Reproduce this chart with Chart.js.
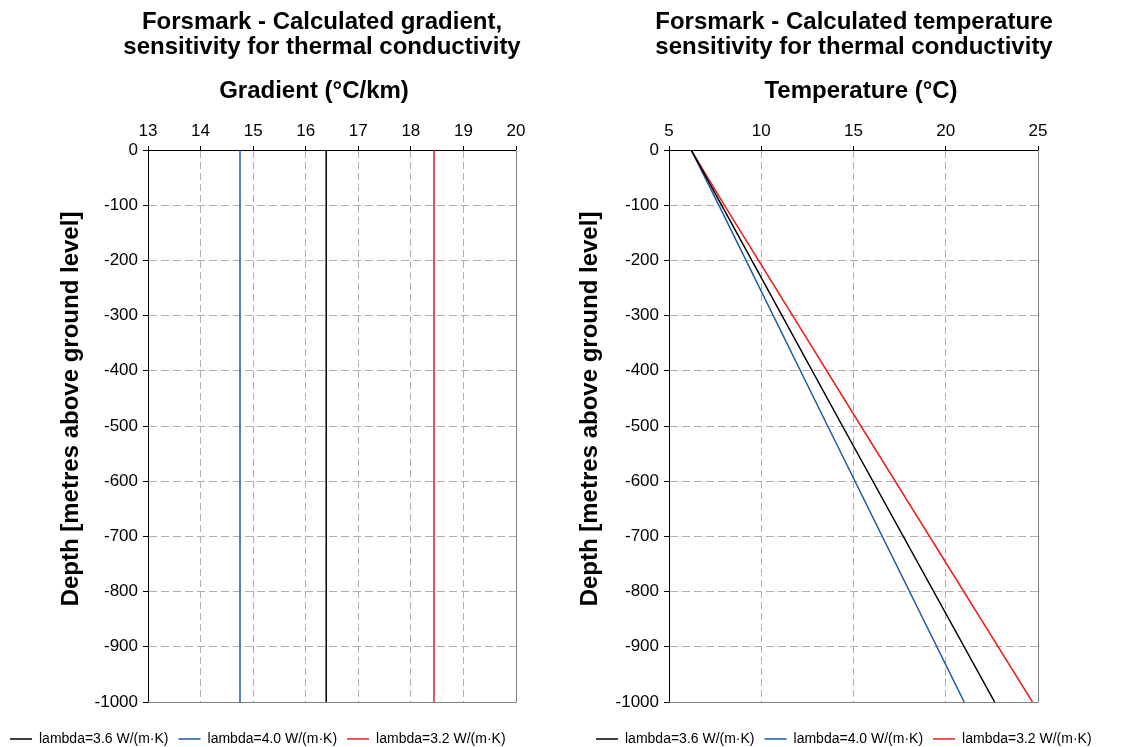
<!DOCTYPE html>
<html>
<head>
<meta charset="utf-8">
<title>Forsmark - thermal conductivity sensitivity</title>
<script src="https://cdn.jsdelivr.net/npm/chart.js@4/dist/chart.umd.min.js"></script>
<style>
  html, body { margin: 0; padding: 0; background: #fff; width: 1137px; height: 747px; overflow: hidden; }
  .panel { position: absolute; top: 0; }
  #gradPanel { left: 0; }
  #tempPanel { left: 570px; }
</style>
</head>
<body>
<div class="panel" id="gradPanel"><canvas id="gradChart" width="570" height="756"></canvas></div>
<div class="panel" id="tempPanel"><canvas id="tempChart" width="567" height="756"></canvas></div>
<script>
// ---- data ----------------------------------------------------------------
const seriesLabels = ['lambda=3.6 W/(m\u00b7K)', 'lambda=4.0 W/(m\u00b7K)', 'lambda=3.2 W/(m\u00b7K)'];
const seriesColors = ['#000000', '#1a5aa8', '#ee1c1c'];

// calculated gradient (°C/km) versus depth (m)
const gradientDepths = [0, -1000];
const gradient36 = [16.39, 16.39];
const gradient40 = [14.75, 14.75];
const gradient32 = [18.44, 18.44];

// calculated temperature (°C) versus depth (m)
const temperatureDepths = [0, -100, -500, -1000];
const temperature36 = [6.2, 7.85, 14.4, 22.65];
const temperature40 = [6.2, 7.7, 13.6, 21.0];
const temperature32 = [6.2, 8.0, 15.4, 24.7];

// tick labels
const gradientTicks = [13, 14, 15, 16, 17, 18, 19, 20];
const temperatureTicks = [5, 10, 15, 20, 25];
const depthTicks = [0, -100, -200, -300, -400, -500, -600, -700, -800, -900, -1000];

// ---- drawing ---------------------------------------------------------------
const FONT = "'Liberation Sans', Arial, Helvetica, sans-serif";
Chart.defaults.font.family = FONT;
Chart.defaults.color = '#000';

// titles and axis captions
const captionPlugin = {
  id: 'captions',
  afterDraw(chart, args, o) {
    const ctx = chart.ctx;
    ctx.save();
    ctx.fillStyle = '#000';
    ctx.font = 'bold ' + o.size + 'px ' + FONT;
    ctx.textAlign = 'center';
    ctx.textBaseline = 'middle';
    o.title.forEach((line, i) => ctx.fillText(line, o.titleX, o.titleY + i * o.lineGap));
    ctx.fillText(o.xCaption, o.xCaptionX, o.xCaptionY);
    ctx.translate(o.yCaptionX, o.yCaptionY);
    ctx.rotate(-Math.PI / 2);
    ctx.fillText(o.yCaption, 0, 0);
    ctx.restore();
  }
};

// grey right and bottom edges of the plot frame
const framePlugin = {
  id: 'frame',
  beforeDatasetsDraw(chart) {
    const { ctx, chartArea: a } = chart;
    ctx.save();
    ctx.strokeStyle = '#808080';
    ctx.lineWidth = 1;
    ctx.beginPath();
    ctx.moveTo(Math.round(a.right) + 0.5, a.top);
    ctx.lineTo(Math.round(a.right) + 0.5, Math.round(a.bottom) + 0.5);
    ctx.lineTo(a.left, Math.round(a.bottom) + 0.5);
    ctx.stroke();
    ctx.restore();
  }
};

// one profile: values along x, depths along y
function series(values, depths, i) {
  return {
    label: seriesLabels[i],
    data: depths.map((d, k) => ({ x: values[k], y: d })),
    borderColor: seriesColors[i],
    backgroundColor: seriesColors[i],
    borderWidth: 1.5,
    showLine: true,
    pointRadius: 0,
    pointHoverRadius: 0,
    fill: false,
    tension: 0
  };
}

function buildOptions(cfg) {
  const tickFont = { size: 17, family: FONT };
  return {
    responsive: false,
    animation: false,
    devicePixelRatio: 1,
    layout: { padding: { left: cfg.padLeft, right: 0, top: 120, bottom: 0 } },
    scales: {
      x: {
        type: 'linear',
        position: 'top',
        min: cfg.xTicks[0],
        max: cfg.xTicks[cfg.xTicks.length - 1],
        afterBuildTicks: s => { s.ticks = cfg.xTicks.map(v => ({ value: v })); },
        afterFit: s => { s.height = 30; },
        ticks: { font: tickFont, color: '#000', padding: 4, maxRotation: 0, callback: v => String(v) },
        grid: { color: '#b0b0b0', tickColor: '#000', tickLength: 4 },
        border: { color: '#000', width: 1, dash: [7, 4] }
      },
      y: {
        type: 'linear',
        position: 'left',
        min: depthTicks[depthTicks.length - 1],
        max: depthTicks[0],
        afterBuildTicks: s => { s.ticks = depthTicks.map(v => ({ value: v })); },
        afterFit: s => { s.width = cfg.yWidth; },
        ticks: { font: tickFont, color: '#000', padding: 5, callback: v => String(v) },
        grid: { color: '#b0b0b0', tickColor: '#000', tickLength: 5 },
        border: { color: '#000', width: 1, dash: [8, 4] }
      },
      spacer: {
        type: 'linear',
        position: 'right',
        min: 0,
        max: 1,
        grid: { display: false },
        ticks: { display: false },
        border: { display: false },
        afterFit: s => { s.width = cfg.rightSpace; }
      }
    },
    plugins: {
      tooltip: { enabled: false },
      title: { display: false },
      legend: {
        position: 'bottom',
        align: 'start',
        title: { display: true, text: ' ', padding: 0, font: { size: 20, lineHeight: 1 } },
        labels: {
          usePointStyle: true,
          pointStyle: 'line',
          pointStyleWidth: 22,
          padding: 10,
          color: '#000',
          font: { size: 14, family: FONT }
        }
      },
      captions: cfg.captions
    }
  };
}

new Chart(document.getElementById('gradChart'), {
  type: 'scatter',
  data: {
    datasets: [
      series(gradient36, gradientDepths, 0),
      series(gradient40, gradientDepths, 1),
      series(gradient32, gradientDepths, 2)
    ]
  },
  options: buildOptions({
    padLeft: 0, yWidth: 148, rightSpace: 54, xTicks: gradientTicks,
    captions: {
      size: 24, lineGap: 25,
      title: ['Forsmark - Calculated gradient,', 'sensitivity for thermal conductivity'],
      titleX: 322, titleY: 22,
      xCaption: 'Gradient (\u00b0C/km)', xCaptionX: 314, xCaptionY: 91,
      yCaption: 'Depth [metres above ground level]', yCaptionX: 71, yCaptionY: 409
    }
  }),
  plugins: [framePlugin, captionPlugin]
});

new Chart(document.getElementById('tempChart'), {
  type: 'scatter',
  data: {
    datasets: [
      series(temperature36, temperatureDepths, 0),
      series(temperature40, temperatureDepths, 1),
      series(temperature32, temperatureDepths, 2)
    ]
  },
  options: buildOptions({
    padLeft: 16, yWidth: 83, rightSpace: 99, xTicks: temperatureTicks,
    captions: {
      size: 24, lineGap: 25,
      title: ['Forsmark - Calculated temperature', 'sensitivity for thermal conductivity'],
      titleX: 284, titleY: 22,
      xCaption: 'Temperature (\u00b0C)', xCaptionX: 291, xCaptionY: 91,
      yCaption: 'Depth [metres above ground level]', yCaptionX: 20, yCaptionY: 409
    }
  }),
  plugins: [framePlugin, captionPlugin]
});
</script>
</body>
</html>
